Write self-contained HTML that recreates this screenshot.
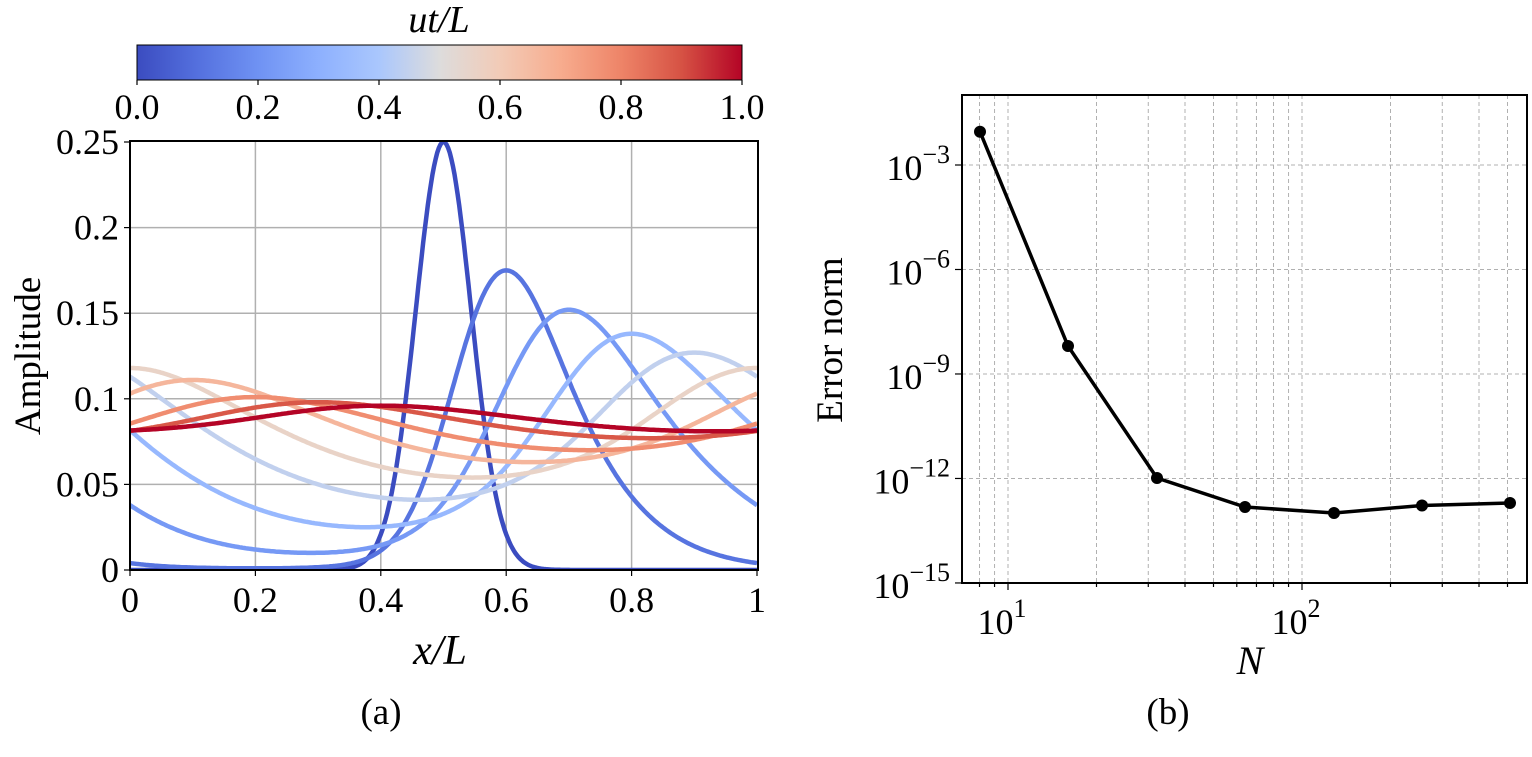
<!DOCTYPE html>
<html><head><meta charset="utf-8"><style>
html,body{margin:0;padding:0;background:#fff;}
svg{display:block;font-family:"Liberation Serif",serif;}
</style></head><body>
<svg id="s" width="1532" height="757" viewBox="0 0 1532 757" xmlns="http://www.w3.org/2000/svg">
<defs>
<linearGradient id="cw" x1="0" x2="1" y1="0" y2="0">
<stop offset="0" stop-color="#3b4cc0"/><stop offset="0.1" stop-color="#5470de"/>
<stop offset="0.2" stop-color="#6f92f3"/><stop offset="0.3" stop-color="#8db0fe"/>
<stop offset="0.4" stop-color="#aac7fd"/><stop offset="0.5" stop-color="#dddcdc"/>
<stop offset="0.6" stop-color="#f2cbb7"/><stop offset="0.7" stop-color="#f7ac8e"/>
<stop offset="0.8" stop-color="#ee8468"/><stop offset="0.9" stop-color="#d65244"/>
<stop offset="1" stop-color="#b40426"/>
</linearGradient>
<clipPath id="ca"><rect x="130" y="141" width="628" height="430"/></clipPath>
</defs>
<rect x="137" y="45" width="605" height="35" fill="url(#cw)" stroke="#000" stroke-width="1"/>
<text x="439" y="32" font-size="38" font-style="italic" text-anchor="middle">ut/L</text>
<g font-size="36" text-anchor="middle">
<text x="137" y="119">0.0</text><text x="258" y="119">0.2</text><text x="379" y="119">0.4</text>
<text x="500" y="119">0.6</text><text x="621" y="119">0.8</text><text x="742" y="119">1.0</text>
</g>
<g stroke="#000" stroke-width="1.2">
<line x1="137" y1="80" x2="137" y2="85"/><line x1="258" y1="80" x2="258" y2="85"/><line x1="379" y1="80" x2="379" y2="85"/><line x1="500" y1="80" x2="500" y2="85"/><line x1="621" y1="80" x2="621" y2="85"/><line x1="742" y1="80" x2="742" y2="85"/>
</g>
<g id="lg" stroke="#b0b0b0" stroke-width="1.5"></g>
<g id="curves" clip-path="url(#ca)" fill="none" stroke-width="4.5"></g>
<rect x="130" y="141" width="628" height="429" fill="none" stroke="#000" stroke-width="2"/>
<g id="lt" font-size="36"></g>
<text x="440" y="664" font-size="42" font-style="italic" text-anchor="middle">x/L</text>
<text transform="translate(40,356) rotate(-90)" font-size="37" text-anchor="middle">Amplitude</text>
<text x="381" y="724" font-size="37" text-anchor="middle">(a)</text>
<g id="rg" stroke="#b0b0b0" stroke-width="1" stroke-dasharray="4,3"></g>
<path id="rl" fill="none" stroke="#000" stroke-width="3.5"/>
<g id="rp"></g>
<rect x="962" y="95" width="565" height="488" fill="none" stroke="#000" stroke-width="2"/>
<g id="rt" font-size="36"></g>
<text x="1250" y="674" font-size="40" font-style="italic" text-anchor="middle">N</text>
<text transform="translate(842,340) rotate(-90)" font-size="37" text-anchor="middle">Error norm</text>
<text x="1168" y="724" font-size="37" text-anchor="middle">(b)</text>
</svg>
<script>
var NS="http://www.w3.org/2000/svg";
function el(p,t,a,txt){var e=document.createElementNS(NS,t);for(var k in a)e.setAttribute(k,a[k]);if(txt!==undefined)e.textContent=txt;p.appendChild(e);return e;}
var X=function(x){return 130+627*x},Y=function(y){return 570-1712*y};
var lg=document.getElementById('lg'),lt=document.getElementById('lt');
[0.2,0.4,0.6,0.8].forEach(function(v){el(lg,'line',{x1:X(v),x2:X(v),y1:141,y2:570});});
[0.05,0.1,0.15,0.2].forEach(function(v){el(lg,'line',{x1:130,x2:758,y1:Y(v),y2:Y(v)});});
var xl=[[0,'0'],[0.2,'0.2'],[0.4,'0.4'],[0.6,'0.6'],[0.8,'0.8'],[1,'1']];
xl.forEach(function(a){el(lt,'text',{x:X(a[0]),y:612,'text-anchor':'middle'},a[1]);el(lt,'line',{x1:X(a[0]),x2:X(a[0]),y1:570,y2:576,stroke:'#000','stroke-width':1.2});});
var yl=[[0,'0'],[0.05,'0.05'],[0.1,'0.1'],[0.15,'0.15'],[0.2,'0.2'],[0.25,'0.25']];
yl.forEach(function(a){el(lt,'text',{x:119,y:Y(a[0])+12,'text-anchor':'end'},a[1]);el(lt,'line',{x1:124,x2:130,y1:Y(a[0]),y2:Y(a[0]),stroke:'#000','stroke-width':1.2});});
var cols=[[59,76,192],[84,112,222],[111,146,243],[141,176,254],[170,199,253],[221,220,220],[242,203,183],[247,172,142],[238,132,104],[214,82,68],[180,4,38]];
function cw(t){var s=t*10,i=Math.min(9,Math.floor(s)),f=s-i,a=cols[i],b=cols[i+1];return 'rgb('+[0,1,2].map(function(k){return Math.round(a[k]+(b[k]-a[k])*f)}).join(',')+')';}
var M=[0.25,0.175,0.152,0.138,0.127,0.118,0.111,0.101,0.098,0.096];
var m=[0.0,0.001,0.01,0.025,0.041,0.054,0.063,0.07,0.077,0.081];
var K=[13,3.0,1.6,1.1,0.85,0.7,0.6,0.5,0.45,0.4];
var W=[0,0.7,0.6,0.5,0.4,0.3,0.25,0.2,0.2,0.2];
var cg=document.getElementById('curves');
for(var i=0;i<10;i++){var mu=0.5+0.1*i,d='';for(var j=0;j<=400;j++){var x=j/400;var u=x-mu;u=u-Math.round(u);var ph=2*Math.PI*u;ph=ph-W[i]*(1-Math.cos(ph))/2;var k=K[i];var v=(Math.exp(k*Math.cos(ph))-Math.exp(-k))/(Math.exp(k)-Math.exp(-k));var y=m[i]+(M[i]-m[i])*v;d+=(j?'L':'M')+X(x).toFixed(1)+','+Y(y).toFixed(1);}el(cg,'path',{d:d,stroke:cw(i/9)});}
var RX=function(n){return 1008+294*Math.log10(n/10)},RY=function(e){return 165+34.83*(-3-e)};
var rg=document.getElementById('rg'),rt=document.getElementById('rt');
var minors=[8,9,10,20,30,40,50,60,70,80,90,100,200,300,400,500];
minors.forEach(function(n){var x=RX(n);el(rg,'line',{x1:x,x2:x,y1:95,y2:583});el(rt,'line',{x1:x,x2:x,y1:583,y2:(n==10||n==100)?590:587,stroke:'#000','stroke-width':1.2});});
[-3,-6,-9,-12].forEach(function(e){el(rg,'line',{x1:962,x2:1527,y1:RY(e),y2:RY(e)});});
[-3,-6,-9,-12,-15].forEach(function(e){var y=RY(e);el(rt,'line',{x1:955,x2:962,y1:y,y2:y,stroke:'#000','stroke-width':1.2});var t=el(rt,'text',{x:950,y:y+15,'text-anchor':'end'});t.innerHTML='10<tspan dy="-17" font-size="26">−'+(-e)+'</tspan>';});
[[10,'1'],[100,'2']].forEach(function(a){var t=el(rt,'text',{x:RX(a[0])-6,y:634,'text-anchor':'middle'});t.innerHTML='10<tspan dy="-17" font-size="26">'+a[1]+'</tspan>';});
var pts=[[980,131.7],[1068,346],[1157,478],[1245,507],[1334,513],[1422,505.5],[1510,503]];
document.getElementById('rl').setAttribute('d','M'+pts.map(function(p){return p.join(',')}).join('L'));
var rp=document.getElementById('rp');pts.forEach(function(p){el(rp,'circle',{cx:p[0],cy:p[1],r:6,fill:'#000'});});
</script>
</body></html>
